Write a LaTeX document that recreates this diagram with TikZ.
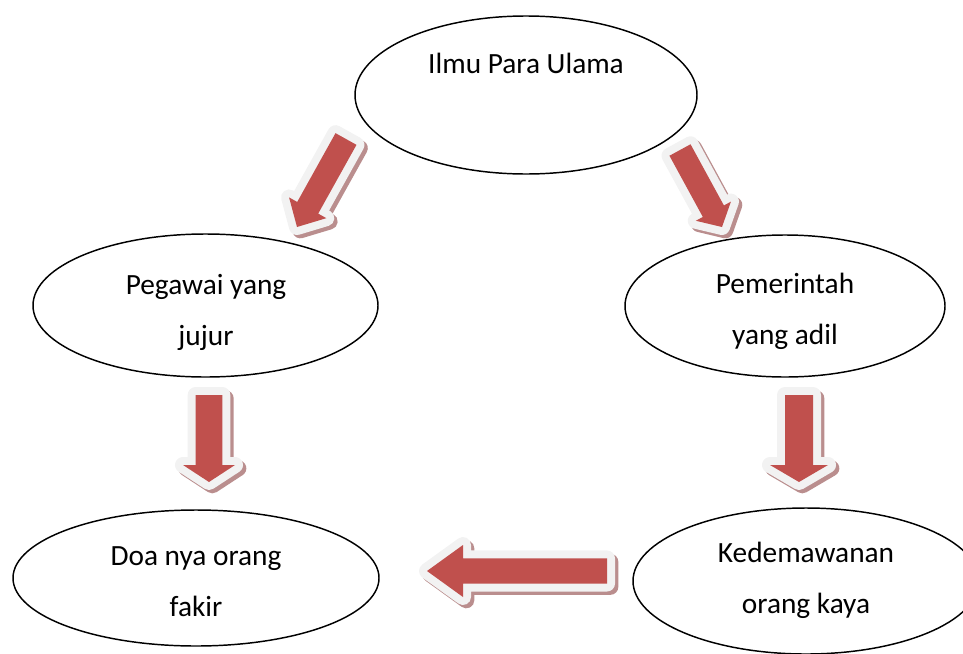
\documentclass[tikz,border=0pt]{standalone}
\usepackage{fontspec}
\setmainfont{Carlito}
\usetikzlibrary{shapes.geometric,calc}
\definecolor{arrowred}{RGB}{192,80,77}
\definecolor{arrowrim}{RGB}{242,242,242}
\definecolor{arrowshadow}{RGB}{186,142,142}
% block arrow: style, tail, tip, half shaft, half head, head length
\newcommand\blockarrow[6]{%
  \coordinate (hb) at ($(#3)!#6!(#2)$);
  \path[#1] ($(#2)!#4!90:(#3)$) -- ($(hb)!#4!90:(#3)$) -- ($(hb)!#5!90:(#3)$) -- (#3)
    -- ($(hb)!#5!-90:(#3)$) -- ($(hb)!#4!-90:(#3)$) -- ($(#2)!#4!-90:(#3)$) -- cycle;
}
\begin{document}
\begin{tikzpicture}[x=0.75pt,y=-0.75pt,line join=round,
    font=\fontsize{22}{38}\selectfont,
    bubble/.style={draw,ellipse,line width=1.1pt,inner sep=0pt},
    caption/.style={align=center,anchor=base,inner sep=0pt},
    rimline/.style={draw=arrowrim,fill=arrowrim,line width=12pt},
    shadowline/.style={rimline,draw=arrowshadow,fill=arrowshadow,
      transform canvas={shift={(2.5pt,-2.5pt)}}},
    bodyfill/.style={fill=arrowred}]
  \useasboundingbox (0,0) rectangle (963,653);
  % ellipses
  \node[bubble,minimum width=256.5pt,minimum height=118.5pt] (ulama) at (526,95) {};
  \node[bubble,minimum width=258.75pt,minimum height=107.25pt] (pegawai) at (205.5,305.5) {};
  \node[bubble,minimum width=240pt,minimum height=106.5pt] (pemerintah) at (785,306) {};
  \node[bubble,minimum width=274.5pt,minimum height=102pt] (doa) at (196,578) {};
  \node[bubble,minimum width=259.5pt,minimum height=109.5pt] (dermawan) at (806,581) {};
  % texts (base = last line)
  \node[caption] (ulama-t) at (526,73) {Ilmu Para Ulama};
  \node[caption] (pegawai-t) at (206,345) {Pegawai yang\\jujur};
  \node[caption] (pemerintah-t) at (785,344) {Pemerintah\\yang adil};
  \node[caption] (doa-t) at (196,616) {Doa nya orang\\fakir};
  \node[caption] (dermawan-t) at (806,613) {Kedemawanan\\orang kaya};
  % arrows
  \path
  (346,139) coordinate (from1) (297,227) coordinate (to1)
  (680,150) coordinate (from2) (722,227) coordinate (to2)
  (209,395) coordinate (from3) (209,482) coordinate (to3)
  (799,395) coordinate (from4) (799,482) coordinate (to4)
  (607,571) coordinate (from5) (427,571) coordinate (to5)
  ;
  \foreach \i/\s/\H/\h in {1/9pt/16pt/16.5pt,2/9pt/15pt/13.5pt,3/10pt/19.5pt/12.75pt,
    4/10.5pt/21.75pt/12.75pt,5/9.4pt/19.5pt/27pt}
  \foreach \look in {shadowline,rimline,bodyfill}
  {\blockarrow{\look}{from\i}{to\i}{\s}{\H}{\h}}
\end{tikzpicture}
\end{document}
